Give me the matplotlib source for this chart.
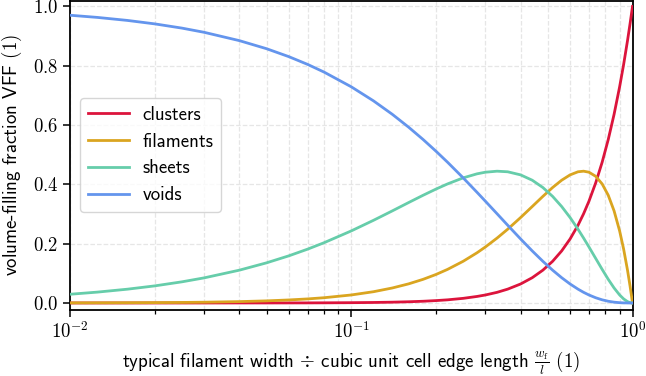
import math
import matplotlib
matplotlib.use("Agg")
import matplotlib.pyplot as plt
import matplotlib.ticker as ticker

plt.rcParams["mathtext.fontset"] = "cm"
plt.rcParams["font.family"] = ["cmss10", "DejaVu Sans"]
plt.rcParams["axes.unicode_minus"] = False

# x = typical filament width / cubic unit cell edge length
width_ratio = [0.01, 0.0125, 0.016, 0.02, 0.025, 0.03, 0.04, 0.05, 0.06, 0.07,
               0.08, 0.1, 0.12, 0.14, 0.16, 0.18, 0.2, 0.22, 0.25, 0.28,
               0.3, 0.33, 0.36, 0.4, 0.44, 0.48, 0.52, 0.56, 0.6, 0.64,
               0.67, 0.7, 0.74, 0.78, 0.82, 0.86, 0.9, 0.93, 0.96, 0.98,
               0.99, 1.0]

clusters = [0.0, 0.0, 0.0, 0.0, 0.0, 0.0, 0.0001, 0.0001, 0.0002, 0.0003,
            0.0005, 0.001, 0.0017, 0.0027, 0.0041, 0.0058, 0.008, 0.0106, 0.0156, 0.022,
            0.027, 0.0359, 0.0467, 0.064, 0.0852, 0.1106, 0.1406, 0.1756, 0.216, 0.2621,
            0.3008, 0.343, 0.4052, 0.4746, 0.5514, 0.6361, 0.729, 0.8044, 0.8847, 0.9412,
            0.9703, 1.0]
filaments = [0.0003, 0.0005, 0.0008, 0.0012, 0.0018, 0.0026, 0.0046, 0.0071, 0.0102, 0.0137,
             0.0177, 0.027, 0.038, 0.0506, 0.0645, 0.0797, 0.096, 0.1133, 0.1406, 0.1693,
             0.189, 0.2189, 0.2488, 0.288, 0.3252, 0.3594, 0.3894, 0.414, 0.432, 0.4424,
             0.4444, 0.441, 0.4271, 0.4015, 0.3631, 0.3106, 0.243, 0.1816, 0.1106, 0.0576,
             0.0294, 0.0]
sheets = [0.0294, 0.0366, 0.0465, 0.0576, 0.0713, 0.0847, 0.1106, 0.1354, 0.159, 0.1816,
          0.2031, 0.243, 0.2788, 0.3106, 0.3387, 0.3631, 0.384, 0.4015, 0.4219, 0.4355,
          0.441, 0.4444, 0.4424, 0.432, 0.414, 0.3894, 0.3594, 0.3252, 0.288, 0.2488,
          0.2189, 0.189, 0.1501, 0.1133, 0.0797, 0.0506, 0.027, 0.0137, 0.0046, 0.0012,
          0.0003, 0.0]
voids = [0.9703, 0.963, 0.9528, 0.9412, 0.9269, 0.9127, 0.8847, 0.8574, 0.8306, 0.8044,
         0.7787, 0.729, 0.6815, 0.6361, 0.5927, 0.5514, 0.512, 0.4746, 0.4219, 0.3732,
         0.343, 0.3008, 0.2621, 0.216, 0.1756, 0.1406, 0.1106, 0.0852, 0.064, 0.0467,
         0.0359, 0.027, 0.0176, 0.0106, 0.0058, 0.0027, 0.001, 0.0003, 0.0001, 0.0,
         0.0, 0.0]

names = ["clusters", "filaments", "sheets", "voids"]
colors = ["crimson", "goldenrod", "mediumaquamarine", "cornflowerblue"]

fig = plt.figure(figsize=(6.46, 3.76), dpi=100)
ax = fig.add_axes([70 / 646, 1 - 309.5 / 376, 562.5 / 646, 309 / 376])

for ys, name, c in zip([clusters, filaments, sheets, voids], names, colors):
    ax.plot(width_ratio, ys, color=c, lw=2, label=name, zorder=3)

ax.set_xscale("log")
ax.set_xlim(0.01, 1)
ax.set_ylim(-0.022, 1.02)
ax.yaxis.set_major_locator(ticker.MultipleLocator(0.2))
ax.yaxis.set_major_formatter(ticker.FuncFormatter(lambda v, p: r"$%.1f$" % v))
ax.xaxis.set_major_formatter(ticker.FuncFormatter(lambda v, p: r"$10^{%d}$" % round(math.log10(v))))
ax.xaxis.set_minor_formatter(ticker.NullFormatter())

ax.grid(which="both", axis="x", ls="--", color="#e6e6e6", lw=0.9, zorder=0)
ax.grid(which="major", axis="y", ls="--", color="#e6e6e6", lw=0.9, zorder=0)

for s in ax.spines.values():
    s.set_linewidth(1.3)
ax.tick_params(which="major", labelsize=13.5, length=5, width=1.1)
ax.tick_params(which="minor", length=2.8, width=0.9)

ax.set_xlabel(r"typical filament width $\div$ cubic unit cell edge length $\frac{w_\mathrm{f}}{l}$ $(1)$",
              fontsize=13.6, labelpad=5)
ax.set_ylabel(r"volume-filling fraction VFF $(1)$", fontsize=13.6, labelpad=6)

ax.legend(loc="center left", fontsize=13.6, handlelength=2.17, handletextpad=0.74,
          borderpad=0.4, labelspacing=0.47, borderaxespad=0.53)

fig.savefig("out.png", dpi=100)
